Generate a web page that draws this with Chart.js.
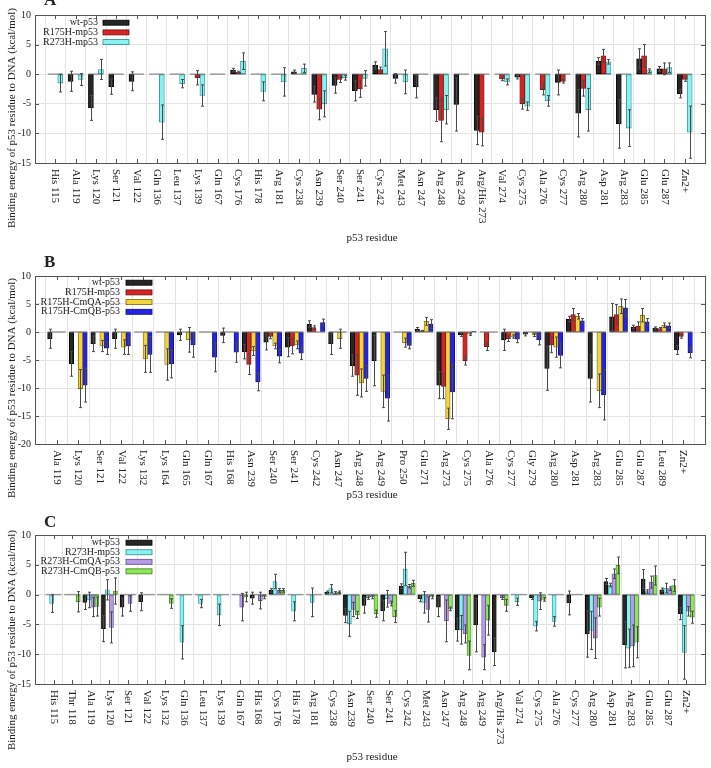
<!DOCTYPE html>
<html>
<head>
<meta charset="utf-8">
<script src="https://cdn.jsdelivr.net/npm/chart.js@4/dist/chart.umd.min.js"></script>
<style>
  body { margin: 0; background: #fff; }
  .panel { position: relative; width: 711px; }
  canvas { display: block; }
</style>
</head>
<body>
<div class="panel" style="height:255px"><canvas id="chartA"></canvas></div>
<div class="panel" style="height:255px"><canvas id="chartB"></canvas></div>
<div class="panel" style="height:258px"><canvas id="chartC"></canvas></div>
<script>
// --- Panel A data ---
const residuesA = ['His 115','Ala 119','Lys 120','Ser 121','Val 122','Gln 136','Leu 137','Lys 139','Gln 167','Cys 176','His 178','Arg 181','Cys 238','Asn 239','Ser 240','Ser 241','Cys 242','Met 243','Asn 247','Arg 248','Arg 249','Arg/His 273','Val 274','Cys 275','Ala 276','Cys 277','Arg 280','Asp 281','Arg 283','Glu 285','Glu 287','Zn2+'];
const wtA       = [0,-1.2,-5.7,-2.1,-1.2,0,0,0,0,0.7,0,0,0.4,-3.4,-1.9,-2.8,1.5,-0.7,-2.1,-6.0,-5.1,-9.5,0,-0.5,0,-1.4,-6.6,2.2,-8.4,2.6,0.9,-3.3];
const wtErrA    = [0,1.7,2.1,1.3,1.6,0,0,0,0,0.3,0,0,0.3,1.3,1.3,1.7,0.6,0.8,1.9,2.0,4.5,2.4,0,0.3,0,2.1,4.0,0.6,4.1,1.7,0.4,0.7];
const r175hA    = [0,0,0,0,0,0,0,-0.6,0,0.3,0,0,0,-5.9,-0.9,-2.5,0.8,0,0,-7.8,0,-9.8,-0.8,-5.0,-2.6,-1.2,-2.4,3.1,0,3.1,0.9,-0.9];
const r175hErrA = [0,0,0,0,0,0,0,1.2,0,0.2,0,0,0,1.8,0.5,1.4,0.4,0,0,3.6,0,2.3,0.3,0.9,0.9,0.3,1.3,1.1,0,1.9,1.0,0.3];
const r273hA    = [-1.5,-0.9,0.8,0,0,-8.1,-1.6,-3.6,0,2.2,-2.9,-1.3,1.0,-5.0,-0.6,-0.7,4.3,-1.3,0,-6.0,0,0,-1.3,-5.4,-4.5,0,-6.0,2.1,-9.1,0.6,1.1,-9.8];
const r273hErrA = [1.5,1.0,1.7,0,0,2.9,0.7,1.8,0,1.4,1.6,2.4,0.7,2.2,0.4,1.3,2.9,2.0,0,2.4,0,0,0.5,0.7,0.9,0,3.6,0.4,3.1,0.3,0.8,4.4];

// --- Panel B data ---
const residuesB = ['Ala 119','Lys 120','Ser 121','Val 122','Lys 132','Lys 164','Gln 165','Gln 167','His 168','Asn 239','Ser 240','Ser 241','Cys 242','Asn 247','Arg 248','Arg 249','Pro 250','Glu 271','Arg 273','Cys 275','Ala 276','Cys 277','Gly 279','Arg 280','Asp 281','Arg 283','Glu 285','Glu 287','Leu 289','Zn2+'];
const wtB        = [-1.2,-5.7,-2.1,-1.2,0,0,-0.5,0,-0.6,-3.5,-1.8,-2.7,1.4,-2.1,-6.0,-5.1,0,0.5,-9.5,-0.5,0,-1.4,-0.4,-6.5,2.3,-8.3,2.7,0.9,0.7,-3.2];
const wtErrB     = [1.7,2.2,1.4,1.7,0,0,1.0,0,1.3,1.3,1.4,1.7,0.6,1.9,1.9,4.5,0,0.3,2.4,0.3,0,1.9,0.3,3.9,0.5,4.2,2.4,0.3,0.2,0.8];
const r175hB     = [0,0,0,0,0,0,0,0,0,-5.8,-0.8,-2.5,0.8,0,-7.7,0,0,0.2,-9.7,-5.1,-2.6,-1.2,0,-2.3,3.1,0,3.1,1.0,0.6,-0.8];
const r175hErrB  = [0,0,0,0,0,0,0,0,0,1.8,0.4,1.4,0.3,0,3.6,0,0,0.1,2.2,0.8,0.7,0.5,0,1.4,1.1,0,1.8,0.8,0.2,0.3];
const cmqaB      = [0,-10.1,-2.5,-2.7,-4.8,-5.8,-1.4,0,0,-3.4,-2.5,-2.3,0,-1.2,-9.1,-10.6,-1.9,1.9,-15.5,-0.4,0,-0.8,-0.5,-2.7,2.8,-10.5,4.6,3.0,1.2,0];
const cmqaErrB   = [0,3.4,1.0,1.3,2.4,2.8,2.2,0,0,0.8,0.5,0.7,0,1.7,2.5,2.9,0.8,0.7,1.9,0.2,0,0.3,0.3,1.8,0.5,3.0,1.3,1.2,0.4,0];
const cmqbB      = [0,-9.5,-2.9,-2.5,-4.0,-5.7,-2.3,-4.5,-3.6,-8.9,-4.3,-3.8,1.7,0,-8.3,-11.8,-2.4,1.4,-10.7,0.1,0,-1.3,-1.4,-4.2,2.0,-11.2,4.3,1.8,1.1,-3.7];
const cmqbErrB   = [0,3.0,1.1,1.5,3.2,2.5,2.2,2.6,1.8,1.6,1.2,1.1,0.6,0,2.3,4.1,0.6,0.8,4.8,0,0,0.6,0.9,2.2,0.4,4.5,1.5,0.6,0.5,0.9];

// --- Panel C data ---
const residuesC = ['His 115','Thr 118','Ala 119','Lys 120','Ser 121','Val 122','Lys 132','Gln 136','Leu 137','Lys 139','Gln 167','His 168','Cys 176','His 178','Arg 181','Cys 238','Asn 239','Ser 240','Ser 241','Cys 242','Met 243','Asn 247','Arg 248','Arg 249','Arg/His 273','Val 274','Cys 275','Ala 276','Cys 277','Arg 280','Asp 281','Arg 283','Glu 285','Glu 287','Zn2+'];
const wtC        = [0,0,-1.3,-5.7,-2.1,-1.2,0,0,0,0,0,-0.6,0.7,0,0,0.4,-3.5,-1.8,-2.7,1.4,-0.7,-2.1,-5.9,-5.1,-9.6,0,-0.5,0,-1.4,-6.6,2.2,-8.4,2.6,0.8,-3.2];
const wtErrC     = [0,0,1.2,2.2,1.5,1.5,0,0,0,0,0,1.0,0.3,0,0,0.2,1.2,1.3,1.7,0.4,0.5,1.6,1.9,4.5,2.3,0,0.3,0,2.0,3.9,0.5,3.9,1.6,0.3,1.0];
const r273hC     = [-1.5,0,-0.9,0.8,0,0,0,-8.0,-1.5,-3.4,0,0,2.2,-2.8,-1.3,1.0,-4.9,-0.5,-0.7,4.3,-1.3,0,-5.9,0,0,-1.2,-5.3,-4.5,0,-6.0,1.6,-9.0,0.5,1.1,-9.7];
const r273hErrC  = [1.5,0,1.3,1.7,0,0,0,2.8,0.7,1.8,0,0,1.2,1.6,2.4,0.7,2.1,0.3,1.4,2.8,1.8,0,2.4,0,0,0.6,0.8,0.8,0,3.2,0.3,3.2,0.3,0.8,4.5];
const cmqaC      = [0,0,-2.1,-5.5,-1.5,0,0,0,0,0,-2.1,-1.0,0.7,0,0,0.3,-2.5,-0.4,-1.5,1.4,-2.5,-4.4,-6.6,-10.5,-0.5,0,-1.1,0,0,-7.3,3.5,-8.6,2.1,1.0,-2.8];
const cmqaErrC   = [0,0,1.6,2.6,1.3,0,0,0,0,0,2.3,1.4,0.3,0,0,0.2,1.2,0.3,0.4,0.3,2.1,3.5,1.5,2.1,0.3,0,1.4,0,0,3.4,0.8,3.5,1.0,0.3,0.8];
const cmqbC      = [0,-1.2,-2.0,0.6,0,0,-1.5,0,0,0,-0.4,-0.4,0.7,0,0,0.4,-3.4,-3.2,-3.7,1.9,-0.4,-2.4,-10.2,-4.3,-1.8,0,-0.8,0,0,-2.1,4.9,-8.0,3.2,1.5,-3.8];
const cmqbErrC   = [0,1.7,1.6,2.2,0,0,0.8,0,0,0,0.8,0.3,0.3,0,0,0.2,0.6,0.6,1.0,0.5,0.3,0.3,2.4,2.5,1.0,0,0.3,0,0,1.5,1.4,2.6,1.6,1.0,1.0];

const yTicks = [10, 5, 0, -5, -10, -15, -20];

const FONT = '"Liberation Serif", "Times New Roman", serif';
const INK = '#222';

const COLORS = {
    wt:     { fill: '#262626', stroke: '#000000' },
    r175h:  { fill: '#d42424', stroke: '#701010' },
    r273h:  { fill: '#88f2f2', stroke: '#2e8a8a' },
    cmqa175:{ fill: '#f2d43c', stroke: '#7a6410' },
    cmqb175:{ fill: '#2424e6', stroke: '#10106a' },
    cmqa273:{ fill: '#b69ce6', stroke: '#5e4a8a' },
    cmqb273:{ fill: '#8ee85a', stroke: '#3e7a22' }
};

// zero values are simply not drawn as bars
const padded = arr => [null, ...arr.map(v => (v === 0 ? null : v)), null];

// --- Drawing helpers (frame, zero segments, error bars, texts) ---
function makeDecor(cfg) {
    return {
        id: 'decor',
        beforeDatasetsDraw(chart) {
            const { ctx, scales: { x, y } } = chart;
            const y0 = y.getPixelForValue(0);
            const half = cfg.barWidth * cfg.series.length / 2;
            ctx.save();
            ctx.strokeStyle = '#9a9a9a';
            ctx.lineWidth = 1.5;
            cfg.labels.forEach((_, i) => {
                const cx = x.getPixelForValue(i + 1);
                ctx.beginPath();
                ctx.moveTo(cx - half, y0);
                ctx.lineTo(cx + half, y0);
                ctx.stroke();
            });
            ctx.restore();
        },
        afterDatasetsDraw(chart) {
            const { ctx, chartArea: a, scales: { x, y } } = chart;
            ctx.save();
            // error bars
            ctx.strokeStyle = '#4a4a4a';
            ctx.lineWidth = 1;
            chart.data.datasets.forEach((ds, di) => {
                const meta = chart.getDatasetMeta(di);
                meta.data.forEach((bar, i) => {
                    const v = ds.data[i], e = ds.errors[i];
                    if (v == null || !e) return;
                    const px = Math.round(bar.x) + 0.5;
                    const yLo = y.getPixelForValue(v - e), yHi = y.getPixelForValue(v + e);
                    ctx.beginPath();
                    ctx.moveTo(px, yLo); ctx.lineTo(px, yHi);
                    ctx.moveTo(px - 1.5, yLo); ctx.lineTo(px + 1.5, yLo);
                    ctx.moveTo(px - 1.5, yHi); ctx.lineTo(px + 1.5, yHi);
                    ctx.stroke();
                });
            });
            // frame with inward ticks
            ctx.strokeStyle = '#555';
            ctx.strokeRect(a.left + 0.5, a.top + 0.5, a.right - a.left, a.bottom - a.top);
            ctx.beginPath();
            y.ticks.forEach(t => {
                const py = Math.round(y.getPixelForValue(t.value)) + 0.5;
                ctx.moveTo(a.left, py); ctx.lineTo(a.left + 4, py);
                ctx.moveTo(a.right, py); ctx.lineTo(a.right - 4, py);
            });
            cfg.labels.forEach((_, i) => {
                const px = Math.round(x.getPixelForValue(i + 1)) + 0.5;
                ctx.moveTo(px, a.top); ctx.lineTo(px, a.top + 4);
                ctx.moveTo(px, a.bottom); ctx.lineTo(px, a.bottom - 4);
            });
            ctx.stroke();
            ctx.restore();
        },
        afterDraw(chart) {
            const { ctx, chartArea: a, scales: { x } } = chart;
            ctx.save();
            ctx.fillStyle = INK;

            // panel letter
            ctx.font = 'bold 17px ' + FONT;
            ctx.textAlign = 'left';
            ctx.textBaseline = 'alphabetic';
            ctx.fillText(cfg.letter, 44, cfg.letterY);

            // residue labels, rotated clockwise
            ctx.font = '11px ' + FONT;
            ctx.textBaseline = 'middle';
            cfg.labels.forEach((lab, i) => {
                ctx.save();
                ctx.translate(x.getPixelForValue(i + 1), a.bottom + 6);
                ctx.rotate(Math.PI / 2);
                ctx.fillText(lab, 0, 0);
                ctx.restore();
            });

            // axis titles
            ctx.font = '11px ' + FONT;
            ctx.textAlign = 'center';
            ctx.fillText('p53 residue', 372, cfg.xTitleY);
            ctx.save();
            ctx.translate(12, cfg.yTitleY);
            ctx.rotate(-Math.PI / 2);
            ctx.fillText('Binding energy of p53 residue to DNA (kcal/mol)', 0, 0);
            ctx.restore();

            // legend: name right-aligned, swatch to the right
            ctx.font = '10px ' + FONT;
            ctx.textAlign = 'right';
            cfg.series.forEach((s, k) => {
                const ry = cfg.legend.top + k * cfg.legend.step;
                ctx.fillStyle = INK;
                ctx.fillText(s.name, cfg.legend.textRight, ry);
                ctx.fillStyle = s.color.fill;
                ctx.fillRect(cfg.legend.boxX, ry - 2.5, 26, 5);
                ctx.strokeStyle = s.color.stroke;
                ctx.lineWidth = 0.8;
                ctx.strokeRect(cfg.legend.boxX, ry - 2.5, 26, 5);
            });
            ctx.restore();
        }
    };
}

// --- Build one panel ---
function buildPanel(canvasId, cfg) {
    const canvas = document.getElementById(canvasId);
    const height = canvas.parentNode.clientHeight;
    const datasets = cfg.series.map(s => ({
        label: s.name,
        data: padded(s.values),
        errors: [0, ...s.errors, 0],
        backgroundColor: s.color.fill,
        borderColor: s.color.stroke,
        borderWidth: 0.8,
        borderSkipped: false,
        barThickness: cfg.barWidth
    }));

    new Chart(canvas, {
        type: 'bar',
        data: { labels: ['', ...cfg.labels, ''], datasets },
        options: {
            responsive: true,
            maintainAspectRatio: false,
            animation: false,
            layout: { padding: { top: cfg.top, right: 6, left: 0, bottom: 0 } },
            plugins: { legend: { display: false }, tooltip: { enabled: false } },
            scales: {
                x: {
                    offset: false,
                    ticks: { display: false },
                    grid: { color: '#e4e4e4', drawTicks: false },
                    border: { display: false },
                    afterFit: scale => { scale.height = height - cfg.bottom; }
                },
                y: {
                    min: cfg.yMin,
                    max: cfg.yMax,
                    afterBuildTicks: scale => {
                        scale.ticks = yTicks.filter(v => v >= cfg.yMin && v <= cfg.yMax).map(v => ({ value: v }));
                    },
                    ticks: { color: INK, font: { family: FONT, size: 10 }, padding: 4 },
                    grid: { color: '#e4e4e4', drawTicks: false },
                    border: { display: false },
                    afterFit: scale => { scale.width = 35; }
                }
            }
        },
        plugins: [makeDecor(cfg)]
    });
}

// --- Initial Load ---
buildPanel('chartA', {
    letter: 'A', letterY: 5, top: 15, bottom: 163, yMin: -15, yMax: 10,
    xTitleY: 238, yTitleY: 118, barWidth: 5,
    labels: residuesA,
    legend: { textRight: 98, boxX: 103, top: 22.7, step: 9.7 },
    series: [
        { name: 'wt-p53', values: wtA, errors: wtErrA, color: COLORS.wt },
        { name: 'R175H-mp53', values: r175hA, errors: r175hErrA, color: COLORS.r175h },
        { name: 'R273H-mp53', values: r273hA, errors: r273hErrA, color: COLORS.r273h }
    ]
});

buildPanel('chartB', {
    letter: 'B', letterY: 12, top: 21, bottom: 189, yMin: -20, yMax: 10,
    xTitleY: 240, yTitleY: 133, barWidth: 4.5,
    labels: residuesB,
    legend: { textRight: 120, boxX: 126, top: 27.7, step: 9.7 },
    series: [
        { name: 'wt-p53', values: wtB, errors: wtErrB, color: COLORS.wt },
        { name: 'R175H-mp53', values: r175hB, errors: r175hErrB, color: COLORS.r175h },
        { name: 'R175H-CmQA-p53', values: cmqaB, errors: cmqaErrB, color: COLORS.cmqa175 },
        { name: 'R175H-CmQB-p53', values: cmqbB, errors: cmqbErrB, color: COLORS.cmqb175 }
    ]
});

buildPanel('chartC', {
    letter: 'C', letterY: 17, top: 25, bottom: 174, yMin: -15, yMax: 10,
    xTitleY: 247, yTitleY: 130, barWidth: 4,
    labels: residuesC,
    legend: { textRight: 120, boxX: 126, top: 32.7, step: 9.55 },
    series: [
        { name: 'wt-p53', values: wtC, errors: wtErrC, color: COLORS.wt },
        { name: 'R273H-mp53', values: r273hC, errors: r273hErrC, color: COLORS.r273h },
        { name: 'R273H-CmQA-p53', values: cmqaC, errors: cmqaErrC, color: COLORS.cmqa273 },
        { name: 'R273H-CmQB-p53', values: cmqbC, errors: cmqbErrC, color: COLORS.cmqb273 }
    ]
});
</script>
</body>
</html>
